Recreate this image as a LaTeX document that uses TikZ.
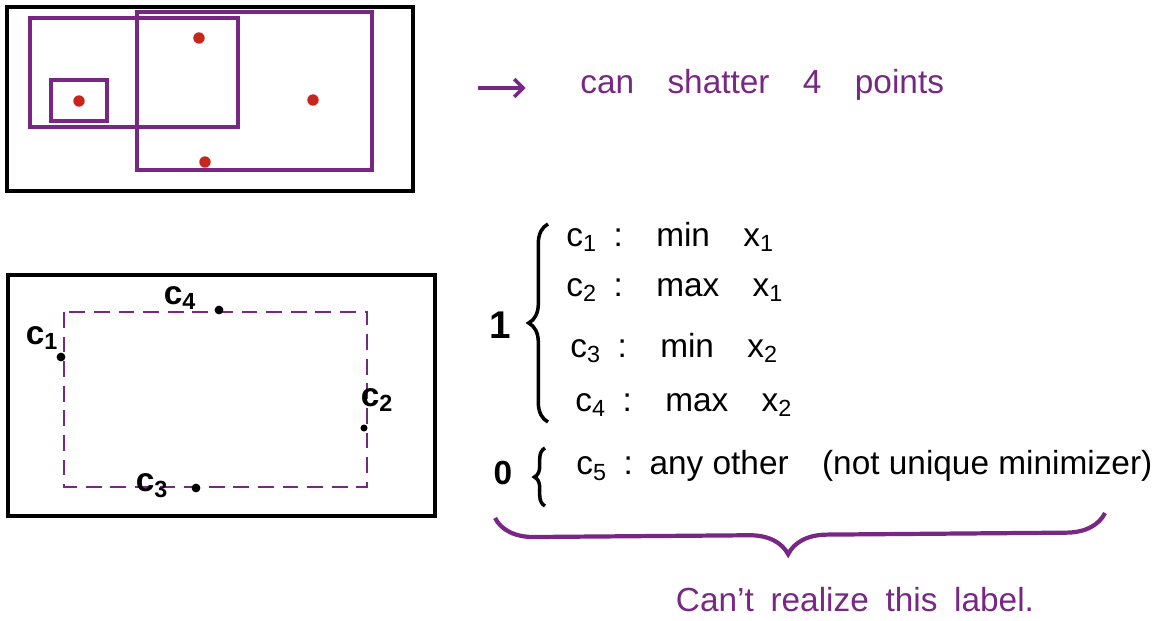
\documentclass[tikz,border=0pt]{standalone}
\usepackage{fontspec}
\setmainfont{Liberation Sans}
\usetikzlibrary{decorations.pathreplacing,arrows.meta}
\definecolor{plum}{RGB}{120,40,132}
\definecolor{dotred}{RGB}{200,38,28}
\tikzset{
	frame/.style={line width=2pt},
	region/.style={plum,line width=2pt},
	pt/.style={circle,fill=#1,inner sep=0pt,minimum size=5pt},
	hand/.style={font=\fontsize{19}{22}\selectfont},
	item/.style={hand,anchor=west,inner sep=0pt},
}
\begin{document}
\begin{tikzpicture}[x=.02cm,y=-.02cm]
	\useasboundingbox(0,0)rectangle(1156,620);
	% four points, shattered by rectangles
	\draw[frame](7,7)rectangle(413,191);
	\draw[region](30,18)rectangle(238,127);
	\draw[region](137,12)rectangle(372,170);
	\draw[region](51,80)rectangle(107,121);
	\node[pt=dotred,minimum size=6.5pt](p1)at(79,101){};
	\node[pt=dotred,minimum size=6.5pt](p2)at(199,38){};
	\node[pt=dotred,minimum size=6.5pt](p3)at(313,100){};
	\node[pt=dotred,minimum size=6.5pt](p4)at(205,162){};
	\coordinate(arr)at(478,88);
	\node[item,plum](shatter)at(580,85){can\enspace\enspace shatter\enspace\enspace 4\enspace\enspace points};
	\draw[region,-{Straight Barb[length=5pt]},shorten >=31pt](arr)--(arr-|shatter.west);
	% five points, tightest box
	\draw[frame](8,275)rectangle(435,516);
	\draw[plum,line width=1pt,dash pattern=on 9pt off 5pt](64,312)rectangle(367,487);
	\node[pt=black](c1)at(61,357){};
	\node[pt=black](c4)at(219,310){};
	\node[pt=black,minimum size=4pt](c2)at(364,428){};
	\node[pt=black](c3)at(196,488){};
	\node[hand,font=\fontsize{19}{22}\bfseries]at(42,338){c\textsubscript{1}};
	\node[hand,font=\fontsize{19}{22}\bfseries]at(180,298){c\textsubscript{4}};
	\node[hand,font=\fontsize{19}{22}\bfseries]at(377,400){c\textsubscript{2}};
	\node[hand,font=\fontsize{19}{22}\bfseries]at(152,486){c\textsubscript{3}};
	% labels
	\node[hand,font=\fontsize{22}{24}\bfseries](one)at(500,325){1};
	\node[item](l1)at(566,237){c\textsubscript{1}\enspace:\enspace\enspace min\enspace\enspace x\textsubscript{1}};
	\node[item](l2)at(566,290){c\textsubscript{2}\enspace:\enspace\enspace max\enspace\enspace x\textsubscript{1}};
	\node[item](l3)at(570,348){c\textsubscript{3}\enspace:\enspace\enspace min\enspace\enspace x\textsubscript{2}};
	\node[item](l4)at(575,405){c\textsubscript{4}\enspace:\enspace\enspace max\enspace\enspace x\textsubscript{2}};
	\draw[line width=2pt,decorate,decoration={brace,amplitude=11pt}](548,422)--(548,224);
	\node[hand,font=\fontsize{19}{22}\bfseries](zero)at(503,473){0};
	\node[item](l5)at(576,466){c\textsubscript{5}\enspace:\enspace any other\enspace\enspace (not unique minimizer)};
	\draw[line width=2pt,decorate,decoration={brace,amplitude=6pt}](545,506)--(545,448);
	\draw[region,line width=2.4pt,decorate,decoration={brace,amplitude=22pt,aspect=.52}](1105,513)--(495,518);
	\node[hand,plum](fail)at(855,600){Can't\enspace realize\enspace this\enspace label.};
\end{tikzpicture}
\end{document}
